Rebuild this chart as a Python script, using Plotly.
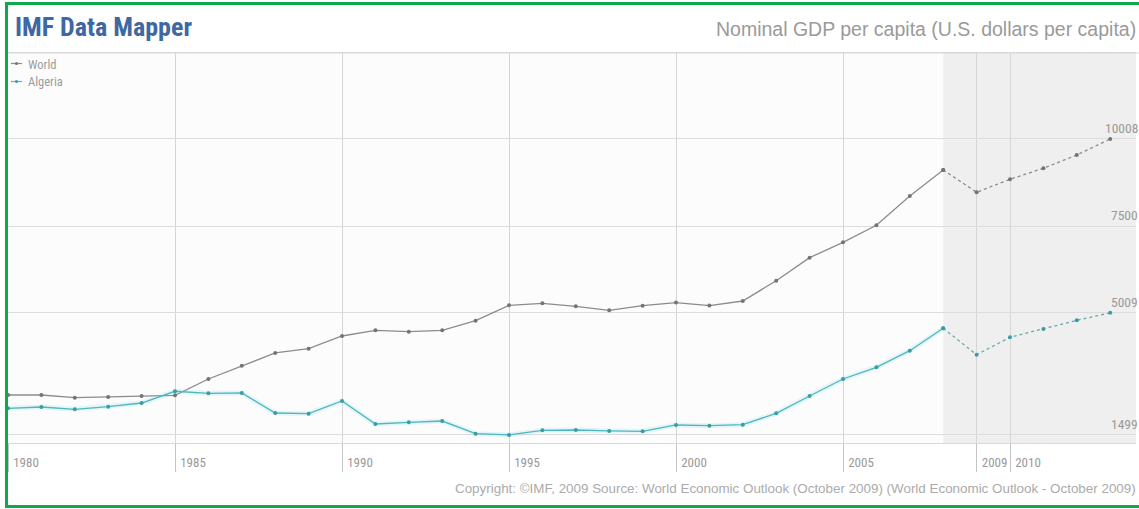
import plotly.graph_objects as go

# Nominal GDP per capita, U.S. dollars per capita (values from 2009 on are estimates)
years = list(range(1980, 2014))
world = [2648, 2648, 2571, 2590, 2619, 2639, 3108, 3490, 3856, 3979,
         4344, 4508, 4469, 4508, 4784, 5227, 5284, 5198, 5083, 5216,
         5304, 5220, 5350, 5934, 6596, 7038, 7527, 8369, 9117, 8476,
         8849, 9166, 9548, 10008]
algeria = [2266, 2303, 2236, 2312, 2418, 2755, 2697, 2706, 2131, 2112,
           2476, 1814, 1862, 1900, 1537, 1499, 1633, 1642, 1614, 1604,
           1786, 1765, 1795, 2120, 2619, 3108, 3444, 3922, 4565, 3807,
           4307, 4545, 4795, 5009]
last_actual_year = 2008
y_ticks = [10008, 7500, 5009, 1499]
x_ticks = [1980, 1985, 1990, 1995, 2000, 2005, 2009, 2010]

W, H = 1139, 509
ML, MR, MT, MB = 8, 3, 53, 66
PW, PH = W - ML - MR, H - MT - MB

X_RANGE = [1980, 1980 + PW / 33.4]
Y_RANGE = [1268, 12480]

NARROW = "Liberation Sans Narrow, Arial Narrow, Roboto Condensed, sans-serif"
REGULAR = "Liberation Sans, Arial, Helvetica, sans-serif"

GRAY_LINE = "#8c8c8c"
GRAY_MARK = "#747474"
TEAL_LINE = "#4fb7c0"
TEAL_MARK = "#3a9da4"
TEAL_DASH = "#6aa9ad"
GREEN = "#0fa84a"


def px(x):
    return (x - ML) / PW


def py(y):
    return (MT + PH - y) / PH


split = years.index(last_actual_year)

fig = go.Figure()


def add_series(vals, line_c, mark_c, dash_c, glow=None):
    act_x, act_y = years[:split + 1], vals[:split + 1]
    est_x, est_y = years[split:], vals[split:]
    if glow:
        fig.add_trace(go.Scatter(x=act_x, y=act_y, mode="lines",
                                 line=dict(color=glow, width=5),
                                 hoverinfo="skip", showlegend=False))
    fig.add_trace(go.Scatter(x=act_x, y=act_y, mode="lines+markers",
                             line=dict(color=line_c, width=1.3),
                             marker=dict(color=mark_c, size=4),
                             showlegend=False))
    fig.add_trace(go.Scatter(x=est_x, y=est_y, mode="lines+markers",
                             line=dict(color=dash_c, width=1.3, dash="3px,3px"),
                             marker=dict(color=mark_c, size=4),
                             showlegend=False))


add_series(world, GRAY_LINE, GRAY_MARK, "#8a8a8a")
add_series(algeria, TEAL_LINE, TEAL_MARK, TEAL_DASH, glow="rgba(120,215,225,0.18)")

shapes = [
    # estimate period shading
    dict(type="rect", xref="x", yref="paper", x0=last_actual_year, x1=X_RANGE[1],
         y0=0, y1=1, fillcolor="#efefef", line=dict(width=0), layer="below"),
    # header rule across the full width
    dict(type="line", xref="paper", yref="paper", x0=px(8), x1=px(1139),
         y0=1, y1=1, line=dict(color="#d9d9d9", width=1)),
    # frame
    dict(type="line", xref="paper", yref="paper", x0=px(6.5), x1=px(6.5),
         y0=py(2), y1=py(508), line=dict(color=GREEN, width=3)),
    dict(type="line", xref="paper", yref="paper", x0=px(5), x1=px(1139),
         y0=py(3.5), y1=py(3.5), line=dict(color=GREEN, width=3)),
    dict(type="line", xref="paper", yref="paper", x0=px(5), x1=px(1139),
         y0=py(506.5), y1=py(506.5), line=dict(color=GREEN, width=3)),
]

# legend entries
for i, (name, lc, mc) in enumerate([("World", GRAY_LINE, GRAY_MARK),
                                     ("Algeria", TEAL_LINE, TEAL_MARK)]):
    yy = 63.5 + 18 * i
    shapes.append(dict(type="line", xref="paper", yref="paper", x0=px(11), x1=px(22),
                       y0=py(yy), y1=py(yy), line=dict(color=lc, width=1.2)))
    shapes.append(dict(type="circle", xref="paper", yref="paper",
                       x0=px(15), x1=px(18), y0=py(yy - 1.5), y1=py(yy + 1.5),
                       fillcolor=mc, line=dict(width=0)))

annotations = [
    dict(text="<b>IMF Data Mapper</b>", xref="paper", yref="paper", x=px(13), y=py(27),
         xanchor="left", yanchor="middle", showarrow=False,
         font=dict(family=NARROW, size=26, color="#3e68a3")),
    dict(text="Nominal GDP per capita (U.S. dollars per capita)", xref="paper", yref="paper",
         x=px(1138), y=py(28.5), xanchor="right", yanchor="middle", showarrow=False,
         font=dict(family=REGULAR, size=19.5, color="#9a9a9a")),
    dict(text="Copyright: ©IMF, 2009 Source: World Economic Outlook (October 2009) "
              "(World Economic Outlook - October 2009)",
         xref="paper", yref="paper", x=px(1138), y=py(488), xanchor="right", yanchor="middle",
         showarrow=False, font=dict(family=REGULAR, size=13.4, color="#ababab")),
]
for i, name in enumerate(["World", "Algeria"]):
    annotations.append(dict(text=name, xref="paper", yref="paper", x=px(26),
                            y=py(64 + 18 * i), xanchor="left", yanchor="middle",
                            showarrow=False,
                            font=dict(family=NARROW, size=12.5, color="#9c9c9c")))
for v in y_ticks:
    annotations.append(dict(text=str(v), xref="paper", yref="y", x=px(1140), y=v,
                            xanchor="right", yanchor="bottom", yshift=1, showarrow=False,
                            font=dict(family=NARROW, size=13.5, color="#9a9a9a")))

fig.update_layout(
    width=W, height=H, autosize=False,
    margin=dict(l=ML, r=MR, t=MT, b=MB, pad=0),
    paper_bgcolor="#ffffff", plot_bgcolor="#fbfcfb",
    showlegend=False,
    shapes=shapes, annotations=annotations,
    xaxis=dict(range=X_RANGE, tickvals=x_ticks, ticktext=[str(t) for t in x_ticks],
               showgrid=True, gridcolor="#d6d6d6", gridwidth=1, zeroline=False,
               showline=True, linecolor="#d9d9d9", linewidth=1, mirror=True,
               ticks="outside", ticklen=28, tickcolor="#c4c4c4", tickwidth=1,
               ticklabelshift=18, ticklabelstandoff=-21,
               tickfont=dict(family=NARROW, size=13, color="#9a9a9a")),
    yaxis=dict(range=Y_RANGE, tickvals=y_ticks, showticklabels=False,
               showgrid=True, gridcolor="#dcdcdc", gridwidth=1, zeroline=False,
               showline=False, ticks=""),
)

fig.write_html("out.html")
